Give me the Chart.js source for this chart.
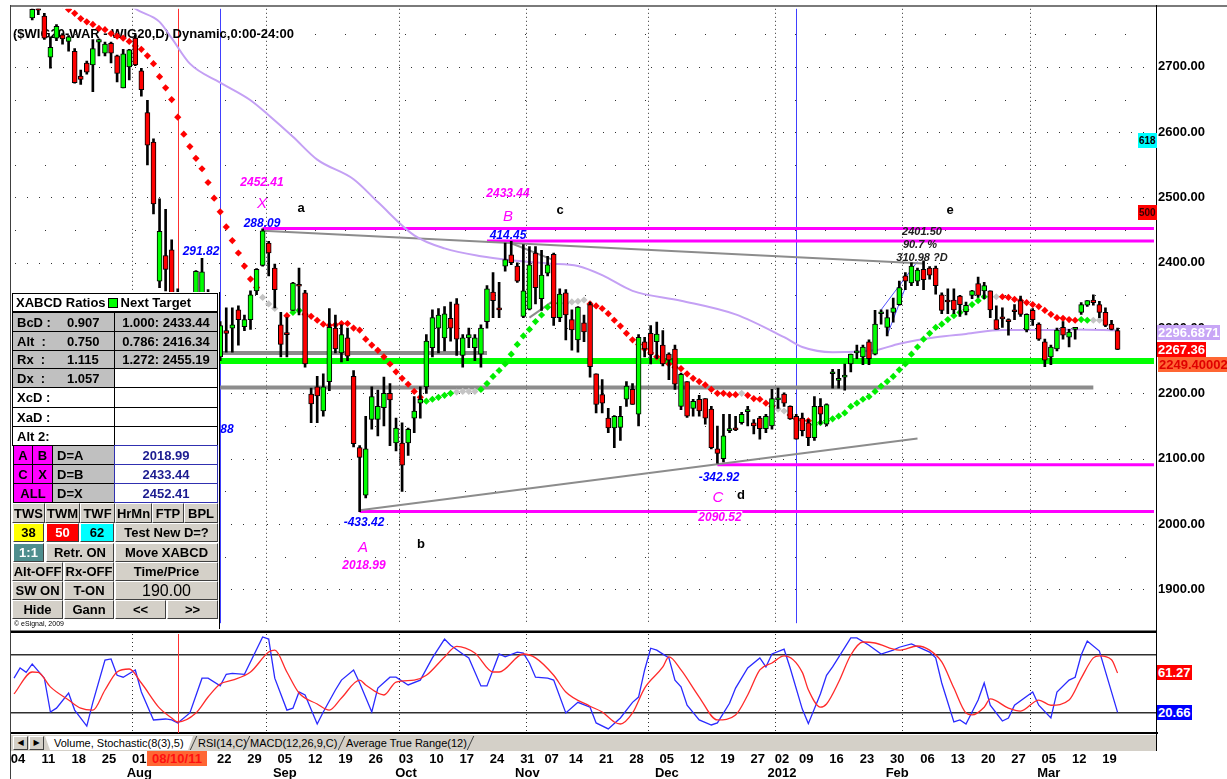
<!DOCTYPE html>
<html>
<head>
<meta charset="utf-8">
<script src="https://cdn.jsdelivr.net/npm/chart.js@4.4.1/dist/chart.umd.min.js"></script>
<style>
html, body { margin: 0; padding: 0; background: #fff; }
#wrap { position: relative; width: 1227px; height: 779px; overflow: hidden; font-family: 'Liberation Sans', Arial, sans-serif; }
canvas { position: absolute; left: 0; }
#mainCv { top: 0; }
#stochCv { top: 630px; }
.ln { position: absolute; }
.t { position: absolute; white-space: nowrap; font-weight: bold; font-size: 12px; line-height: 1; transform: translate(-50%, -50%); }
.mg { color: #ff00ff; font-style: italic; }
.mgl { color: #ff00ff; font-style: italic; font-weight: normal; font-size: 15px; }
.bl { color: #0000ff; font-style: italic; }
.bk { color: #000; font-size: 13px; }
.gi { color: #202020; font-style: italic; font-size: 11px; }
.wb { background: #fff; padding: 0 1px; }
.c { position: absolute; box-sizing: border-box; font-weight: bold; font-size: 13px; line-height: 1; display: flex; align-items: center; white-space: nowrap; overflow: hidden; color: #000; }
.g { background: #c0c0c0; border: 1px solid #000; padding-left: 4px; }
.w { background: #fff; border: 1px solid #000; padding-left: 4px; }
.m { background: #ff00ff; border: 1px solid #000; justify-content: center; }
.v { background: #fff; border: 1px solid #3030b0; color: #1c1c90; justify-content: center; }
.b { background: #d4d0c8; border: 1px solid; border-color: #fff #404040 #404040 #fff; justify-content: center; }
.sq { display: inline-block; width: 8px; height: 8px; background: #00ff00; border: 1px solid #000; margin: 0 3px 0 2px; vertical-align: -1px; }
.tag { position: absolute; font-weight: bold; font-size: 13px; line-height: 15px; height: 15px; padding: 0 1px; white-space: nowrap; }
.tab { position: absolute; top: 736px; height: 14px; font-size: 11px; line-height: 14px; white-space: nowrap; color: #000; }
</style>
</head>
<body>
<div id="wrap">
  <canvas id="mainCv" width="1227" height="632"></canvas>
  <canvas id="stochCv" width="1227" height="149"></canvas>
  <div id="ov"></div>
</div>
<script>
// ---------- categories ----------
const firstDay = '2011-07-04';
const lastDay = '2012-03-21';
const holidays = ['2011-08-15', '2011-11-01', '2011-11-11', '2011-12-26', '2012-01-06'];
const padSlots = 6;
const monthNames = { '2011-08-01': 'Aug', '2011-09-05': 'Sep', '2011-10-03': 'Oct', '2011-10-31': 'Nov',
  '2011-12-05': 'Dec', '2012-01-02': '2012', '2012-01-30': 'Feb', '2012-03-05': 'Mar' };
const monthStarts = ['2011-08-01', '2011-09-01', '2011-10-03', '2011-11-02', '2011-12-01', '2012-01-02', '2012-02-01', '2012-03-01'];
const blueLines = ['2011-08-22', '2012-01-05'];
const cursorDay = '2011-08-10';

const dates = [];
for (let d = new Date(firstDay + 'T00:00:00Z'); d <= new Date(lastDay + 'T00:00:00Z'); d.setUTCDate(d.getUTCDate() + 1)) {
  const wd = d.getUTCDay();
  const s = d.toISOString().slice(0, 10);
  if (wd > 0 && wd < 6 && !holidays.includes(s)) dates.push(s);
}
const labels = dates.concat(Array.from({ length: padSlots }, (_, i) => 'pad' + i));

// ---------- price (WIG20 daily) ----------
const opens = [2805,2812,2808,2775,2789,2778,2715,2744,2749,2739,2724,2686,2706,2703,2738,2721,2736,2717,2668,2700,
  2744,2694,2630,2585,2372,2411,2420,2330,2280,2320,2340,2350,2350,2320,2256,2296,2300,2328,2302,2313,
  2357,2396,2430,2392,2305,2292,2327,2367,2354,2199,2210,2173,2218,2300,2262,2285,2226,2117,2044,2160,
  2160,2178,2200,2124,2124,2124,2162,2185,2210,2270,2300,2285,2315,2337,2258,2285,2270,2260,2310,2355,
  2330,2395,2412,2395,2318,2329,2415,2345,2384,2413,2316,2354,2313,2282,2308,2336,2230,2198,2162,2147,
  2148,2191,2206,2168,2279,2292,2279,2274,2260,2268,2180,2218,2177,2191,2192,2176,2115,2100,2143,2147,
  2155,2172,2155,2162,2146,2150,2190,2199,2180,2165,2162,2155,2132,2180,2153,2230,2220,2225,2245,2262,
  2256,2279,2260,2322,2301,2324,2336,2380,2369,2372,2390,2392,2392,2351,2342,2343,2349,2325,2350,2368,
  2357,2357,2313,2316,2312,2326,2342,2297,2327,2306,2279,2256,2268,2301,2286,2298,2324,2335,2343,2336,
  2324,2306,2296];
const highs = [2822,2826,2815,2795,2795,2782,2746,2765,2751,2748,2728,2695,2709,2742,2743,2738,2738,2718,2727,2727,
  2749,2698,2649,2590,2498,2482,2435,2360,2330,2345,2388,2407,2359,2340,2310,2331,2331,2334,2320,2357,
  2391,2452,2433,2398,2324,2316,2370,2392,2358,2208,2226,2230,2330,2320,2305,2300,2235,2120,2165,2210,
  2205,2225,2215,2162,2155,2147,2195,2210,2290,2328,2330,2333,2340,2345,2290,2300,2290,2305,2365,2385,
  2370,2430,2433,2400,2428,2425,2425,2419,2410,2415,2360,2359,2328,2333,2320,2340,2230,2221,2177,2166,
  2180,2218,2215,2290,2286,2304,2309,2296,2262,2274,2231,2218,2191,2197,2192,2180,2150,2168,2168,2165,
  2171,2180,2160,2165,2168,2206,2208,2201,2181,2168,2170,2160,2195,2192,2184,2237,2237,2245,2260,2274,
  2274,2282,2327,2328,2328,2346,2372,2385,2400,2392,2403,2394,2395,2354,2360,2360,2350,2340,2358,2378,
  2370,2357,2334,2331,2314,2336,2349,2322,2330,2308,2283,2274,2300,2310,2298,2301,2339,2342,2351,2341,
  2331,2312,2300];
const lows = [2796,2800,2793,2772,2780,2742,2698,2740,2735,2724,2675,2673,2689,2662,2717,2717,2706,2677,2668,2680,
  2702,2655,2550,2475,2362,2357,2300,2235,2250,2275,2320,2330,2290,2265,2250,2263,2263,2274,2296,2298,
  2351,2395,2380,2331,2256,2256,2327,2320,2240,2155,2155,2165,2204,2262,2248,2250,2118,2019,2040,2145,
  2135,2150,2120,2112,2050,2105,2140,2162,2200,2256,2262,2265,2280,2258,2240,2270,2250,2240,2300,2316,
  2316,2387,2397,2370,2316,2328,2337,2327,2380,2304,2310,2282,2266,2263,2279,2225,2170,2170,2140,2117,
  2128,2180,2183,2150,2256,2245,2253,2242,2221,2206,2175,2163,2165,2165,2153,2115,2093,2095,2140,2143,
  2153,2150,2138,2130,2140,2145,2177,2180,2160,2130,2135,2120,2128,2153,2150,2208,2208,2205,2233,2253,
  2244,2244,2259,2306,2288,2309,2335,2359,2365,2365,2359,2375,2352,2322,2322,2322,2318,2320,2345,2347,
  2345,2316,2298,2301,2289,2313,2318,2294,2304,2281,2241,2244,2265,2283,2271,2283,2321,2333,2335,2316,
  2302,2297,2267];
const closes = [2812,2808,2796,2788,2787,2744,2730,2762,2743,2746,2676,2681,2692,2728,2742,2735,2721,2690,2720,2726,
  2703,2665,2580,2490,2448,2390,2340,2265,2318,2300,2387,2386,2320,2290,2304,2292,2305,2313,2313,2351,
  2390,2449,2415,2359,2275,2290,2369,2364,2245,2184,2196,2210,2301,2268,2290,2257,2123,2102,2115,2195,
  2180,2200,2190,2147,2090,2145,2173,2191,2280,2316,2320,2322,2300,2283,2285,2290,2285,2300,2360,2342,
  2328,2405,2400,2372,2357,2397,2362,2381,2397,2316,2352,2320,2297,2332,2294,2241,2183,2185,2147,2165,
  2165,2211,2183,2286,2268,2259,2291,2245,2251,2214,2229,2165,2188,2173,2162,2117,2108,2135,2146,2144,
  2168,2174,2150,2146,2165,2192,2192,2185,2161,2130,2143,2132,2180,2168,2183,2232,2222,2228,2260,2263,
  2271,2253,2306,2324,2316,2331,2362,2372,2395,2389,2374,2381,2365,2327,2340,2328,2336,2335,2357,2350,
  2365,2328,2298,2314,2310,2325,2321,2321,2313,2283,2251,2271,2297,2289,2294,2299,2336,2342,2339,2324,
  2304,2298,2267.36];

// stop-and-reverse dots: [day index, price]
const sarRed = [[8,2795],[9,2788],[10,2782],[11,2774],[12,2769],[13,2765],[14,2759],[15,2757],[16,2751],[17,2747],
  [18,2744],[19,2739],[20,2732],[21,2727],[22,2717],[23,2705],[24,2685],[25,2668],[26,2650],[27,2623],[28,2597],
  [29,2578],[30,2560],[31,2544],[32,2523],[33,2499],[34,2478],[35,2455],[36,2434],[37,2415],[38,2395],[39,2375],
  [40,2362],[45,2319],[48,2321],[49,2318],[50,2312],[51,2306],[52,2304],[53,2305],[54,2307],[55,2307],[56,2300],
  [57,2297],[58,2283],[59,2274],[60,2266],[61,2256],[62,2245],[63,2233],[64,2223],[65,2214],[66,2203],[67,2194],
  [95,2337],[96,2334],[97,2330],[98,2322],[99,2312],[100,2303],[101,2292],[102,2282],[103,2275],[104,2268],
  [105,2262],[106,2256],[107,2250],[108,2245],[109,2240],[110,2238],[111,2230],[112,2223],[113,2218],[114,2213],
  [115,2206],[116,2200],[117,2200],[118,2198],[119,2198],[121,2197],[122,2192],[123,2191],[124,2185],[125,2180],
  [128,2167],[129,2161],[130,2159],[131,2158],[163,2348],[164,2347],[165,2344],[166,2342],[167,2339],[168,2336],
  [169,2333],[170,2327],[171,2321],[172,2316],[173,2315],[174,2313],[175,2312]];
const sarGreen = [[46,2324],[47,2327],[68,2188],[69,2191],[70,2194],[71,2197],[72,2200],[77,2206],[78,2215],
  [79,2226],[80,2235],[81,2245],[82,2260],[83,2275],[84,2288],[85,2298],[86,2310],[87,2320],[88,2332],[89,2338],
  [132,2152],[133,2155],[134,2158],[135,2161],[136,2165],[137,2170],[138,2180],[139,2185],[140,2191],[141,2195],
  [142,2203],[143,2211],[144,2218],[145,2226],[146,2236],[147,2245],[148,2260],[149,2271],[150,2283],[151,2292],
  [152,2301],[153,2306],[154,2313],[155,2319],[156,2324],[157,2328],[158,2336],[159,2342],[160,2348],[176,2313],[177,2312]];
const sarGrey = [[41,2347],[42,2337],[43,2330],[73,2202],[74,2203],[75,2203],[76,2203],[90,2338],[91,2338],
  [92,2340],[93,2341],[94,2343],[120,2200],[126,2176],[127,2173],[161,2348],[162,2348],[178,2312],[179,2312]];

// long moving average (read at sample days)
const maLine = [[18,2805],[20,2789],[24,2769],[26,2744],[29,2705],[34,2676],[39,2649],[42,2626],[46,2593],[50,2558],
  [56,2528],[60,2493],[66,2442],[71,2422],[77,2410],[82,2404],[88,2399],[93,2395],[97,2381],[102,2357],[110,2342],
  [119,2321],[127,2286],[130,2271],[135,2263],[142,2266],[146,2276],[152,2286],[157,2291],[163,2297],[169,2297],
  [175,2298],[182,2296.69]];

// horizontal levels: value, first day index, last day index
const levelValues = [2452.41, 2433.44, 2249.40002, 2262, 2209, 2090.52, 2018.99];
const levelFrom = [41, 78, 0, 34, 34, 116, 57];
const levelTo = [188, 188, 188, 78, 178, 188, 188];
const levelStyle = [['#ff00ff', 3], ['#ff00ff', 3], ['#00ff00', 6], ['#8c8c8c', 4], ['#8c8c8c', 4], ['#ff00ff', 3], ['#ff00ff', 3]];

// drawn trend lines: [[i1, p1], [i2, p2]]
const trendGrey = [[[57, 2021], [149, 2131]], [[41, 2449], [150, 2399]], [[82, 2430], [89, 2404]], [[85, 2316], [89, 2342]]];
const trendBlue = [[[143, 2328], [149, 2402]], [[144, 2289], [147, 2362]]];

const tickValues = [1900, 2000, 2100, 2200, 2300, 2400, 2500, 2600, 2700];

// stochastic(8,3,5)
const stochK = [[0,56],[1,66.5],[2,62],[3,70.7],[5,56],[6,21],[7,25],[9,40.7],[10,23],[12,6.5],[13,31],[15,74.8],
  [16,75.9],[17,59],[18,57],[20,64.5],[21,41.7],[23,12.8],[25,13.8],[26,12.8],[27,9.7],[29,20],[31,56],[32,56],
  [34,48],[35,60],[36,61],[38,60],[41,98.6],[42,96.5],[43,56],[45,23],[46,25],[47,41.7],[48,38.6],[50,8.6],[51,21],
  [53,43.8],[54,54],[56,64.5],[57,51],[59,21],[60,45.8],[62,57],[63,57],[65,49],[67,54],[69,77],[71,96.5],[72,90],
  [74,81],[75,77],[77,48],[78,48],[80,81],[81,78],[83,83],[84,82],[85,71.7],[86,57],[88,56],[89,54],[91,20],[93,31],
  [95,26],[96,9.7],[98,3.5],[100,14.8],[102,31],[103,36.5],[104,64.5],[105,87],[106,85],[108,77],[109,54],[110,47],
  [111,28],[113,12.8],[115,7.6],[116,9.7],[118,30],[119,45.8],[121,66.5],[123,77],[124,67.6],[125,81],[127,86],
  [128,66.5],[130,24],[131,9],[133,40],[134,59],[135,67.6],[138,97.6],[139,97.6],[141,90],[143,81],[145,85],[146,88],
  [148,91.4],[151,83],[152,77],[153,51],[155,10.7],[156,12.8],[157,8.6],[159,33.4],[160,51],[161,28],[163,11.7],
  [164,14.8],[165,28],[168,41.7],[169,28],[171,14.8],[172,41.7],[174,54],[175,57],[176,80],[177,94.5],[179,84],[182,20.66]];
const stochD = [[0,39.7],[3,62.4],[4,62],[6,47],[9,33.4],[11,25],[13,23],[15,43.8],[17,62.4],[19,65.5],[21,51],
  [24,25],[26,14.8],[27,10.7],[30,20],[32,36.5],[34,50],[36,54],[39,62.4],[42,83],[43,85],[45,62.4],[47,40.7],
  [50,29.3],[52,23],[54,35.5],[57,54],[58,49],[61,38.6],[63,52],[66,54],[68,59],[71,78],[73,89],[76,82],[79,62.4],
  [80,62.4],[84,81],[86,77],[89,59],[91,41.7],[95,27],[97,21],[99,10.7],[100,8.6],[102,20],[104,45.8],[107,67.6],
  [108,78],[110,64.5],[113,36.5],[116,12.8],[119,18],[121,38.6],[123,64.5],[125,71.7],[127,79],[130,62],[131,44],
  [133,26],[134,29.3],[136,52],[138,80],[140,93.4],[142,92.4],[146,85],[149,89.3],[151,85],[153,72.8],[155,45.8],
  [157,20],[158,18],[160,26],[161,34.5],[164,25],[166,22],[169,33.4],[171,28],[174,33.4],[176,56],[178,77],[179,79],
  [181,75],[182,61.27]];

const titleText = '($WIG20-WAR - WIG20,D) Dynamic,0:00-24:00';

// ---------- helpers ----------
const pts = arr => arr.map(([i, v]) => ({ x: labels[i], y: v }));

function tickText(i) {
  if (i >= dates.length) return '';
  if (i > 0) {
    const cur = new Date(dates[i] + 'T00:00:00Z').getUTCDay();
    const prev = new Date(dates[i - 1] + 'T00:00:00Z').getUTCDay();
    if (cur > prev) return '';
  }
  const day = dates[i].slice(8, 10);
  return monthNames[dates[i]] ? [day, monthNames[dates[i]]] : day;
}

const gridPlugin = {
  id: 'grid',
  beforeDatasetsDraw(chart, args, o) {
    const { ctx, chartArea: a, scales: { x, y } } = chart;
    const slot = x.getPixelForValue(1) - x.getPixelForValue(0);
    ctx.save();
    ctx.lineWidth = 1;
    ctx.strokeStyle = '#303030';
    if (o.rows) {
      tickValues.forEach(v => {
        [v, v + 50].forEach((w, k) => {
          const py = Math.round(y.getPixelForValue(w)) + 0.5;
          ctx.setLineDash(k ? [1, 29] : [1, 11]);
          ctx.beginPath(); ctx.moveTo(a.left + 4, py); ctx.lineTo(a.right - 4, py); ctx.stroke();
        });
      });
    }
    ctx.setLineDash([1, 3]);
    monthStarts.forEach(d => {
      const px = Math.round(x.getPixelForValue(labels.indexOf(d)) - slot / 2) + 0.5;
      ctx.beginPath(); ctx.moveTo(px, a.top); ctx.lineTo(px, a.bottom); ctx.stroke();
    });
    ctx.setLineDash([]);
    if (o.blue) {
      ctx.strokeStyle = '#4040ff';
      blueLines.forEach(d => {
        const px = Math.round(x.getPixelForValue(labels.indexOf(d))) + 0.5;
        ctx.beginPath(); ctx.moveTo(px, a.top); ctx.lineTo(px, a.bottom); ctx.stroke();
      });
    }
    ctx.strokeStyle = '#ff3030';
    const cx = Math.round(x.getPixelForValue(labels.indexOf(cursorDay))) + 0.5;
    ctx.beginPath(); ctx.moveTo(cx, a.top); ctx.lineTo(cx, a.bottom); ctx.stroke();
    if (o.title) {
      ctx.fillStyle = '#000';
      ctx.font = "bold 13px 'Liberation Sans', Arial, sans-serif";
      ctx.fillText(titleText, a.left + 2, a.top + 29);
    }
    ctx.restore();
  }
};

Chart.defaults.font.family = "'Liberation Sans', Arial, sans-serif";

// ---------- main price panel ----------
const mainSets = [];
levelValues.forEach((v, k) => mainSets.push({
  type: 'line', data: [{ x: labels[levelFrom[k]], y: v }, { x: labels[levelTo[k]], y: v }],
  borderColor: levelStyle[k][0], borderWidth: levelStyle[k][1], pointRadius: 0, order: 10
}));
trendGrey.forEach(seg => mainSets.push({
  type: 'line', data: pts(seg), borderColor: '#8c8c8c', borderWidth: 2, pointRadius: 0, order: 9
}));
trendBlue.forEach(seg => mainSets.push({
  type: 'line', data: pts(seg), borderColor: '#5050ff', borderWidth: 1, pointRadius: 0, order: 9
}));
mainSets.push({
  type: 'line', data: pts(maLine), borderColor: '#c4a0f4', borderWidth: 2, pointRadius: 0,
  cubicInterpolationMode: 'monotone', order: 8
});
[[sarRed, '#ff0000'], [sarGreen, '#00ee00'], [sarGrey, '#c4c4c4']].forEach(([arr, col]) => mainSets.push({
  type: 'line', data: pts(arr), showLine: false, pointStyle: 'rectRot', pointRadius: 3.6,
  pointBackgroundColor: col, pointBorderWidth: 0, order: 7
}));
mainSets.push({
  type: 'bar', data: lows.map((l, i) => [l, highs[i]]), backgroundColor: '#000',
  barThickness: 2, grouped: false, order: 2
});
mainSets.push({
  type: 'bar', data: opens.map((o, i) => [o, closes[i]]),
  backgroundColor: opens.map((o, i) => closes[i] >= o ? '#00ff00' : '#ff0000'),
  borderColor: '#000', borderWidth: 1, borderSkipped: false, barThickness: 5, minBarLength: 2,
  grouped: false, order: 1
});

new Chart(document.getElementById('mainCv'), {
  type: 'bar',
  data: { labels, datasets: mainSets },
  options: {
    animation: false, responsive: false,
    layout: { padding: { left: 11, top: 7, bottom: 2, right: 0 } },
    plugins: { legend: { display: false }, tooltip: { enabled: false },
      grid: { rows: true, blue: true, title: true } },
    scales: {
      x: { type: 'category', offset: true, display: false },
      y: {
        position: 'right', min: 1848, max: 2789,
        afterBuildTicks: s => { s.ticks = tickValues.map(v => ({ value: v })); },
        afterFit: s => { s.width = 70; },
        grid: { display: false, drawTicks: false }, border: { display: false },
        ticks: { callback: v => v.toFixed(2), color: '#000', padding: 1, font: { size: 13, weight: 'bold' } }
      }
    }
  },
  plugins: [gridPlugin]
});

// ---------- stochastic panel + date axis ----------
new Chart(document.getElementById('stochCv'), {
  type: 'line',
  data: {
    labels,
    datasets: [
      { data: pts(stochD), borderColor: '#ff2a2a', borderWidth: 1.3, pointRadius: 0, cubicInterpolationMode: 'monotone' },
      { data: pts(stochK), borderColor: '#2a2aff', borderWidth: 1.3, pointRadius: 0, tension: 0 }
    ]
  },
  options: {
    animation: false, responsive: false,
    layout: { padding: { left: 11, top: 4, bottom: 0, right: 0 } },
    plugins: { legend: { display: false }, tooltip: { enabled: false }, grid: { rows: false, blue: false, title: false } },
    scales: {
      x: {
        type: 'category', offset: true,
        grid: { display: false, drawTicks: false },
        border: { display: true, color: '#000', width: 2 },
        afterFit: s => { s.height = 46; s.paddingLeft = 0; s.paddingRight = 0; },
        ticks: { autoSkip: false, maxRotation: 0, minRotation: 0, padding: 19, labelOffset: 4, color: '#000',
          font: { size: 13, weight: 'bold', lineHeight: 1.1 }, callback: (v, i) => tickText(i) }
      },
      y: {
        position: 'right', min: -0.7, max: 101.7,
        afterBuildTicks: s => { s.ticks = [{ value: 20 }, { value: 80 }]; },
        afterFit: s => { s.width = 70; s.paddingTop = 0; s.paddingBottom = 0; },
        ticks: { display: false },
        grid: { color: '#303030', lineWidth: 1.5, drawTicks: false },
        border: { display: false }
      }
    }
  },
  plugins: [gridPlugin]
});

// ---------- overlays: frame, texts, XABCD panel, tags, tabs ----------
let h = '';
const box = (x, y, w, ht, css) => { h += `<div class="ln" style="left:${x}px;top:${y}px;width:${w}px;height:${ht}px;${css}"></div>`; };
box(10, 5, 1217, 2, 'background:#7a7a7a');
box(10, 5, 1, 774, 'background:#404040');
box(11, 630, 1146, 1, 'background:#808080');
box(11, 631, 1146, 2, 'background:#000');
box(1156, 5, 1, 746, 'background:#000');

const notes = [
  ['2452.41', 262, 182, 'mg'], ['X', 262, 202, 'mgl'], ['a', 301, 207, 'bk'], ['288.09', 262, 223, 'bl'],
  ['291.82', 201, 251, 'bl'], ['2433.44', 508, 193, 'mg'], ['B', 508, 215, 'mgl'], ['c', 560, 209, 'bk'],
  ['414.45', 508, 235, 'bl'], ['e', 950, 209, 'bk'], ['2401.50', 922, 231, 'gi'], ['90.7 %', 920, 244, 'gi'],
  ['310.98 ?D', 922, 257, 'gi'], ['88', 227, 429, 'bl'], ['-433.42', 364, 522, 'bl'], ['A', 363, 546, 'mgl'],
  ['b', 421, 543, 'bk'], ['2018.99', 364, 565, 'mg'], ['-342.92', 719, 477, 'bl'], ['C', 718, 496, 'mgl'],
  ['d', 741, 494, 'bk'], ['2090.52', 720, 517, 'mg wb']
];
notes.forEach(([s, x, y, cls]) => { h += `<div class="t ${cls}" style="left:${x}px;top:${y}px">${s}</div>`; });

// XABCD panel
box(11, 292, 208, 337, 'background:#fff;border-right:1px solid #000');
const cell = (x, y, w, ht, cls, txt, css = '') => {
  h += `<div class="c ${cls}" style="left:${x}px;top:${y}px;width:${w}px;height:${ht}px;${css}">${txt}</div>`;
};
cell(12, 293, 206, 19, 'w', 'XABCD Ratios<i class="sq"></i>Next Target', 'padding-left:3px');
const ratioRows = [['BcD :', '0.907', '1.000: 2433.44'], ['Alt&nbsp;&nbsp;:', '0.750', '0.786: 2416.34'],
  ['Rx&nbsp;&nbsp;:', '1.115', '1.272: 2455.19'], ['Dx&nbsp;&nbsp;:', '1.057', ''], ['XcD :', '', ''],
  ['XaD :', '', ''], ['Alt 2:', '', '']];
const rowY = [312, 331, 350, 368, 387, 407, 426, 445];
ratioRows.forEach((r, k) => {
  const y = rowY[k], ht = rowY[k + 1] - y + 1;
  cell(12, y, 103, ht, k < 4 ? 'g' : 'w', `<span style="width:50px;display:inline-block">${r[0]}</span>${r[1]}`);
  cell(114, y, 104, ht, k < 3 ? 'g' : 'w', r[2], 'justify-content:center;padding-left:0');
});
const pickRows = [[445, ['A', 'B'], 'D=A', '2018.99'], [464, ['C', 'X'], 'D=B', '2433.44'], [483, ['ALL'], 'D=X', '2452.41']];
pickRows.forEach(([y, bs, d, v]) => {
  if (bs.length === 2) { cell(13, y, 20, 20, 'm', bs[0]); cell(32, y, 21, 20, 'm', bs[1]); }
  else cell(13, y, 40, 20, 'm', bs[0]);
  cell(52, y, 63, 20, 'g', d);
  cell(114, y, 104, 20, 'v', v);
});
[['TWS', 12, 33], ['TWM', 45, 35], ['TWF', 80, 35], ['HrMn', 115, 37], ['FTP', 152, 32], ['BPL', 184, 34]]
  .forEach(([s, x, w]) => cell(x, 503, w, 20, 'b', s));
cell(13, 523, 31, 19, 'b', '38', 'background:#ffff00');
cell(46, 523, 33, 19, 'b', '50', 'background:#ff0000;color:#fff');
cell(80, 523, 34, 19, 'b', '62', 'background:#00ffff');
cell(115, 523, 103, 19, 'b', 'Test New D=?');
cell(13, 543, 31, 19, 'b', '1:1', 'background:#4f8e8e;color:#fff');
cell(46, 543, 68, 19, 'b', 'Retr. ON');
cell(115, 543, 103, 19, 'b', 'Move XABCD');
cell(12, 562, 51, 19, 'b', 'Alt-OFF');
cell(64, 562, 50, 19, 'b', 'Rx-OFF');
cell(115, 562, 103, 19, 'b', 'Time/Price');
cell(12, 581, 51, 19, 'b', 'SW ON');
cell(64, 581, 50, 19, 'b', 'T-ON');
cell(115, 581, 103, 19, 'b', '190.00', 'font-weight:normal;font-size:16px');
cell(12, 600, 51, 19, 'b', 'Hide');
cell(64, 600, 50, 19, 'b', 'Gann');
cell(115, 600, 51, 19, 'b', '&lt;&lt;');
cell(167, 600, 51, 19, 'b', '&gt;&gt;');
h += `<div class="ln" style="left:14px;top:620px;font-size:7px;line-height:8px;color:#000">&copy; eSignal, 2009</div>`;

// price tags on the right
const tag = (x, y, txt, bg, fg, fs = 13) => {
  h += `<div class="tag" style="left:${x}px;top:${y}px;background:${bg};color:${fg};font-size:${fs}px">${txt}</div>`;
};
tag(1138, 133, '618', '#00ffff', '#000', 10);
tag(1138, 205, '500', '#ff0000', '#300', 10);
tag(1157, 325, '2296.6871', '#c8a6f6', '#fff');
tag(1157, 342, '2267.36', '#ff0000', '#fff');
tag(1158, 357, '2249.40002', '#ff6633', '#e00000');
tag(1157, 665, '61.27', '#ff0000', '#fff');
tag(1157, 705, '20.66', '#0000ff', '#fff');

// indicator tabs
box(11, 735, 1145, 16, 'background:#d4d0c8');
const arrowCss = "background:#d4d0c8;border:1px solid;border-color:#fff #404040 #404040 #fff;text-align:center;font-family:'DejaVu Sans';font-size:8px;height:12px;line-height:12px";
h += `<div class="tab" style="left:13px;width:13px;${arrowCss}">&#9664;</div>`;
h += `<div class="tab" style="left:29px;width:13px;${arrowCss}">&#9654;</div>`;
h += `<div class="tab" style="left:45px;width:148px;background:#fff;clip-path:polygon(0 0,100% 0,calc(100% - 5px) 100%,5px 100%);padding-left:9px;box-sizing:border-box">Volume, Stochastic(8(3),5)</div>`;
[['RSI(14,C)', 198], ['MACD(12,26,9,C)', 250], ['Average True Range(12)', 346]].forEach(([s, x]) => {
  h += `<div class="tab" style="left:${x}px">${s}</div>`;
});
[193, 246, 341, 470].forEach(x => box(x, 736, 1, 14, 'background:#404040;transform:skewX(-25deg)'));
h += `<div class="tag" style="left:147px;top:751px;width:58px;text-align:center;background:#ff6633;color:#ff1010">08/10/11</div>`;

document.getElementById('ov').innerHTML = h;
</script>
</body>
</html>
